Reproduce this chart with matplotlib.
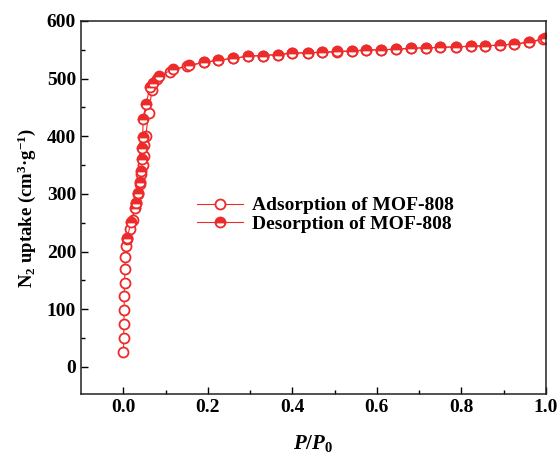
import numpy as np
import matplotlib
matplotlib.use('Agg')
import matplotlib.pyplot as plt

plt.rcParams['font.family'] = ['Liberation Serif', 'DejaVu Serif']
plt.rcParams['font.weight'] = 'bold'
plt.rcParams['axes.labelweight'] = 'bold'
plt.rcParams['mathtext.fontset'] = 'custom'
plt.rcParams['mathtext.rm'] = 'Liberation Serif:bold'
plt.rcParams['mathtext.it'] = 'Liberation Serif:bold:italic'
plt.rcParams['mathtext.bf'] = 'Liberation Serif:bold'

# N2 isotherm of MOF-808 (P/P0, uptake in cm3/g)
ads_x = [0.0005, 0.001, 0.0015, 0.002, 0.0025, 0.003, 0.004, 0.005, 0.007, 0.01,
         0.016, 0.022, 0.03, 0.035, 0.04, 0.043, 0.046, 0.048, 0.05, 0.053,
         0.06, 0.068, 0.08, 0.11, 0.15, 0.19, 0.225, 0.26, 0.296, 0.33,
         0.366, 0.40, 0.436, 0.47, 0.506, 0.541, 0.575, 0.61, 0.646, 0.681,
         0.717, 0.75, 0.786, 0.822, 0.856, 0.891, 0.924, 0.96, 0.994]
ads_y = [25, 50, 75, 99, 123, 146, 169, 191, 210, 222,
         240, 255, 285, 300, 318, 335, 350, 365, 385, 400,
         440, 480, 500, 512, 522, 528, 532, 535, 539, 540,
         541.7, 544, 545, 545.5, 546.6, 548, 549.6, 550, 551, 552.5,
         553.6, 554, 555.3, 556, 557, 558, 560, 563, 568]

des_x = [0.997, 0.96, 0.924, 0.891, 0.856, 0.822, 0.786, 0.75, 0.717, 0.681,
         0.646, 0.61, 0.575, 0.541, 0.506, 0.47, 0.436, 0.40, 0.366, 0.33,
         0.296, 0.26, 0.225, 0.192, 0.156, 0.118, 0.085, 0.07, 0.063, 0.054,
         0.047, 0.046, 0.045, 0.045, 0.043, 0.04, 0.035, 0.03, 0.028, 0.018, 0.01]
des_y = [570, 563, 560, 558, 557, 556, 555, 554, 553.6, 552.5,
         551, 550, 549.6, 548, 547, 545.5, 545, 544, 541.7, 540,
         539, 535, 532, 528, 523, 516, 505, 493, 485, 456,
         430, 398, 380, 360, 340, 320, 302, 285, 276, 252, 224]

red = '#ee2b2b'

fig = plt.figure(figsize=(5.6, 4.61), dpi=100)
ax = fig.add_axes([0.1446, 0.1453, 0.8304, 0.8093])

ax.plot(ads_x, ads_y, '-o', color=red, lw=0.8, ms=7.2, mew=1.3,
        mfc='white', mec=red, label='Adsorption of MOF-808')
ax.plot(des_x, des_y, '-o', color=red, lw=0.8, ms=7.2, mew=1.3,
        fillstyle='top', mfc=red, mfcalt='white', mec=red,
        label='Desorption of MOF-808')

ax.set_xlim(-0.1, 1.0)
ax.set_ylim(-47, 600)
ax.set_xticks(np.arange(0, 1.01, 0.2))
ax.set_xticks(np.arange(0.1, 1.0, 0.2), minor=True)
ax.set_yticks(np.arange(0, 601, 100))
ax.set_yticks(np.arange(50, 600, 100), minor=True)
ax.tick_params(which='both', direction='in', labelsize=14, width=1.0)
ax.tick_params(which='major', length=5)
ax.tick_params(which='minor', length=3)
for s in ax.spines.values():
    s.set_linewidth(1.1)
    s.set_color('#222222')

ax.set_xlabel('$\\mathit{P/P_0}$', fontsize=15, labelpad=12)
ax.set_ylabel('N$_2$ uptake (cm$^3$·g$^{-1}$)', fontsize=13.5, labelpad=6)

ax.legend(loc='center left', bbox_to_anchor=(0.228, 0.48), frameon=False,
          fontsize=14, handlelength=2.4, handletextpad=0.45, labelspacing=0.05,
          borderpad=0, numpoints=1)

fig.savefig('out.png', dpi=100)
